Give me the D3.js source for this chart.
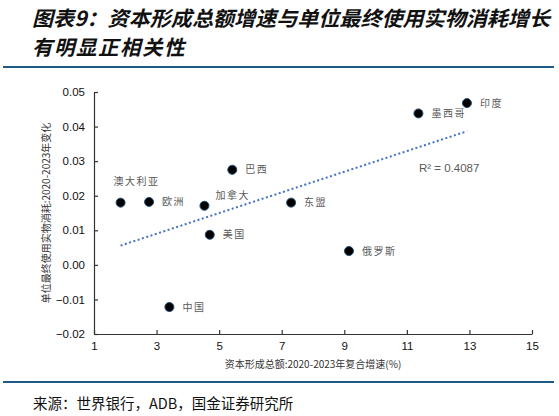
<!DOCTYPE html>
<html>
<head>
<meta charset="utf-8">
<script src="https://cdn.jsdelivr.net/npm/d3@7"></script>
<style>
  body { margin: 0; background: #fff; }
  svg { display: block; }
</style>
</head>
<body>
<svg></svg>
<script>
const width = 559;
const height = 416;

// data
const countries = ["澳大利亚", "欧洲", "加拿大", "巴西", "东盟", "墨西哥", "印度", "美国", "中国", "俄罗斯"];
const capitalGrowth = [1.85, 2.76, 4.53, 5.42, 7.30, 11.37, 12.92, 4.70, 3.41, 9.15];
const materialChange = [0.018, 0.0182, 0.0171, 0.0275, 0.018, 0.0438, 0.0468, 0.0087, -0.0122, 0.0040];
const xTicks = [1, 3, 5, 7, 9, 11, 13, 15];
const yTicks = [-0.02, -0.01, 0, 0.01, 0.02, 0.03, 0.04, 0.05];
const rSquaredText = "R² = 0.4087";

// label placement relative to the point (layout only)
const labelOffset = {
  "澳大利亚": [-7, -21],
  "加拿大": [11, -10],
};

const svg = d3.select("svg").attr("width", width).attr("height", height);

const cjk = "'Noto Sans CJK SC', sans-serif";
const latin = "'Liberation Sans', Arial, sans-serif";

// title
const title = svg.append("g")
  .attr("font-family", cjk)
  .attr("font-weight", "bold")
  .attr("font-style", "italic")
  .attr("font-size", 20.5)
  .attr("fill", "#111");
title.append("text").attr("x", 32).attr("y", 26)
  .attr("textLength", 518).attr("lengthAdjust", "spacingAndGlyphs")
  .text("图表9：资本形成总额增速与单位最终使用实物消耗增长");
title.append("text").attr("x", 32).attr("y", 55)
  .attr("letter-spacing", 1.5)
  .text("有明显正相关性");

svg.append("line")
  .attr("x1", 3).attr("x2", 554).attr("y1", 67).attr("y2", 67)
  .attr("stroke", "#1d5a85").attr("stroke-width", 2);
svg.append("line")
  .attr("x1", 3).attr("x2", 554).attr("y1", 382).attr("y2", 382)
  .attr("stroke", "#1d5a85").attr("stroke-width", 2);

svg.append("text")
  .attr("x", 33).attr("y", 409)
  .attr("font-family", cjk)
  .attr("font-size", 14.5)
  .attr("fill", "#111")
  .text("来源：世界银行，ADB，国金证券研究所");

// scales
const x = d3.scaleLinear().domain([1, 15]).range([94, 532]);
const y = d3.scaleLinear().domain([-0.02, 0.05]).range([334, 92]);

const xAxis = svg.append("g")
  .attr("transform", `translate(0,${y(-0.02)})`)
  .call(d3.axisBottom(x).tickValues(xTicks).tickFormat(d3.format("d")).tickSizeInner(-4).tickSizeOuter(0).tickPadding(8));

const yAxis = svg.append("g")
  .attr("transform", `translate(${x(1)},0)`)
  .call(d3.axisLeft(y).tickValues(yTicks).tickFormat(d3.format(".2f")).tickSizeInner(-4).tickSizeOuter(0).tickPadding(9));

[xAxis, yAxis].forEach((g) => {
  g.select(".domain").attr("stroke", "#333").attr("stroke-width", 1.2);
  g.selectAll(".tick line").attr("stroke", "#333").attr("stroke-width", 1.2);
  g.selectAll(".tick text")
    .attr("font-family", latin)
    .attr("font-size", 11.5)
    .attr("fill", "#111");
});

// axis titles
svg.append("text")
  .attr("x", 313).attr("y", 368)
  .attr("text-anchor", "middle")
  .attr("font-family", cjk)
  .attr("font-size", 10)
  .attr("fill", "#333")
  .text("资本形成总额:2020-2023年复合增速(%)");

svg.append("text")
  .attr("transform", `translate(50,${(y(0.05) + y(-0.02)) / 2}) rotate(-90)`)
  .attr("text-anchor", "middle")
  .attr("font-family", cjk)
  .attr("font-size", 10)
  .attr("fill", "#333")
  .text("单位最终使用实物消耗:2020-2023年变化");

// linear trendline (least squares over the points)
const mx = d3.mean(capitalGrowth);
const my = d3.mean(materialChange);
const sxy = d3.sum(capitalGrowth, (v, i) => (v - mx) * (materialChange[i] - my));
const sxx = d3.sum(capitalGrowth, (v) => (v - mx) * (v - mx));
const slope = sxy / sxx;
const intercept = my - slope * mx;
const [xMin, xMax] = d3.extent(capitalGrowth);

svg.append("line")
  .attr("x1", x(xMin)).attr("y1", y(intercept + slope * xMin))
  .attr("x2", x(xMax)).attr("y2", y(intercept + slope * xMax))
  .attr("stroke", "#4472c4")
  .attr("stroke-width", 2)
  .attr("stroke-dasharray", "2,2.5");

svg.append("text")
  .attr("x", 419).attr("y", 172)
  .attr("font-family", latin)
  .attr("font-size", 11.5)
  .attr("fill", "#595959")
  .text(rSquaredText);

// points
const points = countries.map((c, i) => ({ name: c, gx: capitalGrowth[i], gy: materialChange[i] }));

const node = svg.append("g")
  .selectAll("g")
  .data(points)
  .enter()
  .append("g")
  .attr("transform", (d) => `translate(${x(d.gx)},${y(d.gy)})`);

node.append("circle")
  .attr("r", 4.5)
  .attr("fill", "#000")
  .attr("stroke", "#1f4e79")
  .attr("stroke-width", 1);

node.append("text")
  .attr("x", (d) => (labelOffset[d.name] || [13, 0])[0])
  .attr("y", (d) => (labelOffset[d.name] || [13, 0])[1])
  .attr("dy", "0.35em")
  .attr("font-family", cjk)
  .attr("font-size", 10)
  .attr("letter-spacing", 1.5)
  .attr("fill", "#595959")
  .text((d) => d.name);
</script>
</body>
</html>
